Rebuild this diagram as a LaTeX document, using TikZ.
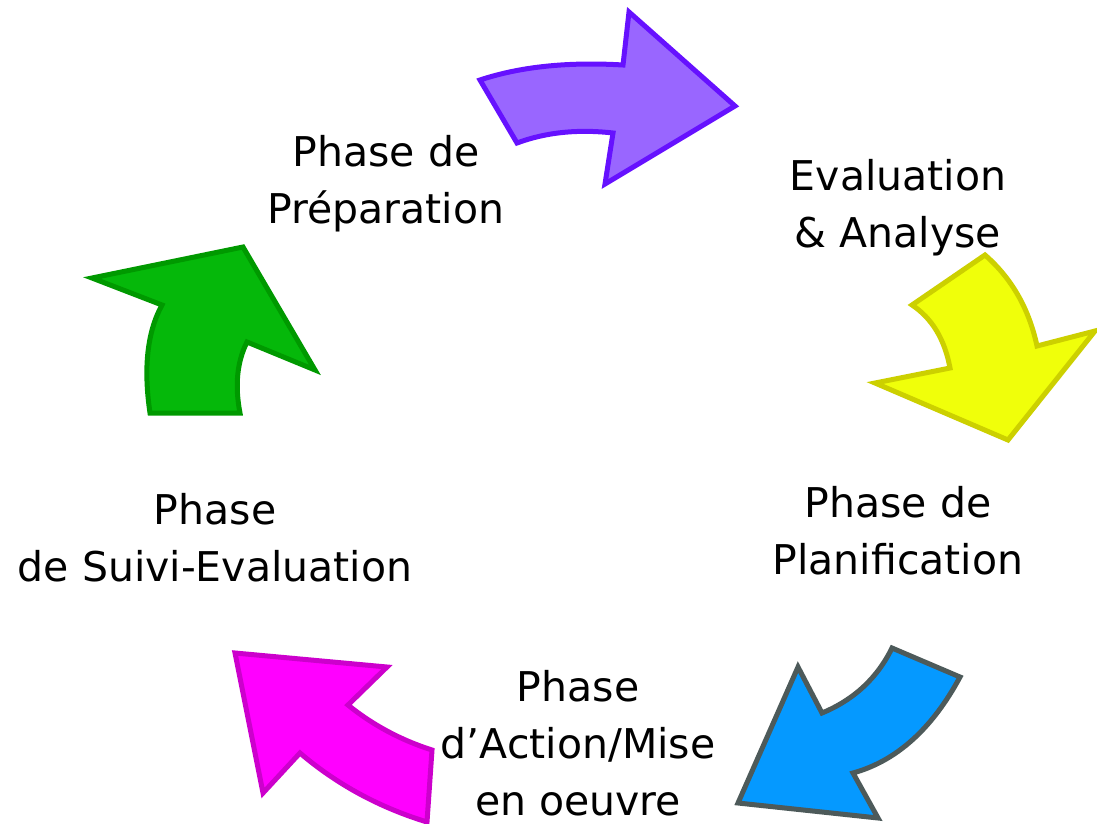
\documentclass[tikz,border=0pt]{standalone}
\usepackage{fontspec}
\setmainfont{DejaVu Sans}
\definecolor{purF}{HTML}{9966FF}\definecolor{purS}{HTML}{6611FF}
\definecolor{yelF}{HTML}{F0FF0A}\definecolor{yelS}{HTML}{CCD000}
\definecolor{bluF}{HTML}{0599FF}\definecolor{bluS}{HTML}{4D5A5A}
\definecolor{magF}{HTML}{FF00FF}\definecolor{magS}{HTML}{CC00CC}
\definecolor{grnF}{HTML}{05B80A}\definecolor{grnS}{HTML}{009900}
\begin{document}
\begin{tikzpicture}[x=1pt,y=-1pt,
  arr/.style={line width=5pt,line join=miter},
  lbl/.style={align=center,font=\fontsize{41}{57}\selectfont,inner sep=0pt}]
\useasboundingbox (0,0) rectangle (1097,824);
% purple
\draw[arr,fill=purF,draw=purS] (480,80) .. controls (520,66.7) and (567.7,61.7) .. (623,65) -- (629,12) -- (735,106) -- (605,184) -- (613,133) .. controls (577.7,129) and (545.7,132.3) .. (517,143) -- cycle;
% yellow
\draw[arr,fill=yelF,draw=yelS] (985,255) -- (912,305) .. controls (932,318.3) and (944.7,339.3) .. (950,368) -- (875,383) -- (1008,440) -- (1095,331) -- (1037,346) .. controls (1029,308.7) and (1011.7,278.3) .. cycle;
% blue
\draw[arr,fill=bluF,draw=bluS] (892,648) -- (960,677) .. controls (932,729) and (896.3,761) .. (853,773) -- (878,818) -- (738,803) -- (798,667) -- (822,713) .. controls (854,699.7) and (877.3,678) .. cycle;
% magenta
\draw[arr,fill=magF,draw=magS] (235,653) -- (387,667) -- (348,705) .. controls (372.7,725) and (400.7,740) .. (432,750) -- (427,822) .. controls (379,807.3) and (336.7,784.3) .. (300,753) -- (263,793) -- cycle;
% green
\draw[arr,fill=grnF,draw=grnS] (150,413) .. controls (143.3,367.7) and (147.3,331.7) .. (162,305) -- (92,278) -- (243,247) -- (315,370) -- (247,342) .. controls (237,362) and (234.7,385.7) .. (240,413) -- cycle;
% labels
\node[lbl] (prep) at (386,184) {Phase de\\Préparation};
\node[lbl] (eval) at (898,208) {Evaluation\\\& Analyse};
\node[lbl] (plan) at (898,531) {Phase de\\Planification};
\node[lbl] (act) at (578,743) {Phase\\d’Action/Mise\\en oeuvre};
\node[lbl] (suivi) at (215,538) {Phase\\de Suivi-Evaluation};
\end{tikzpicture}
\end{document}
